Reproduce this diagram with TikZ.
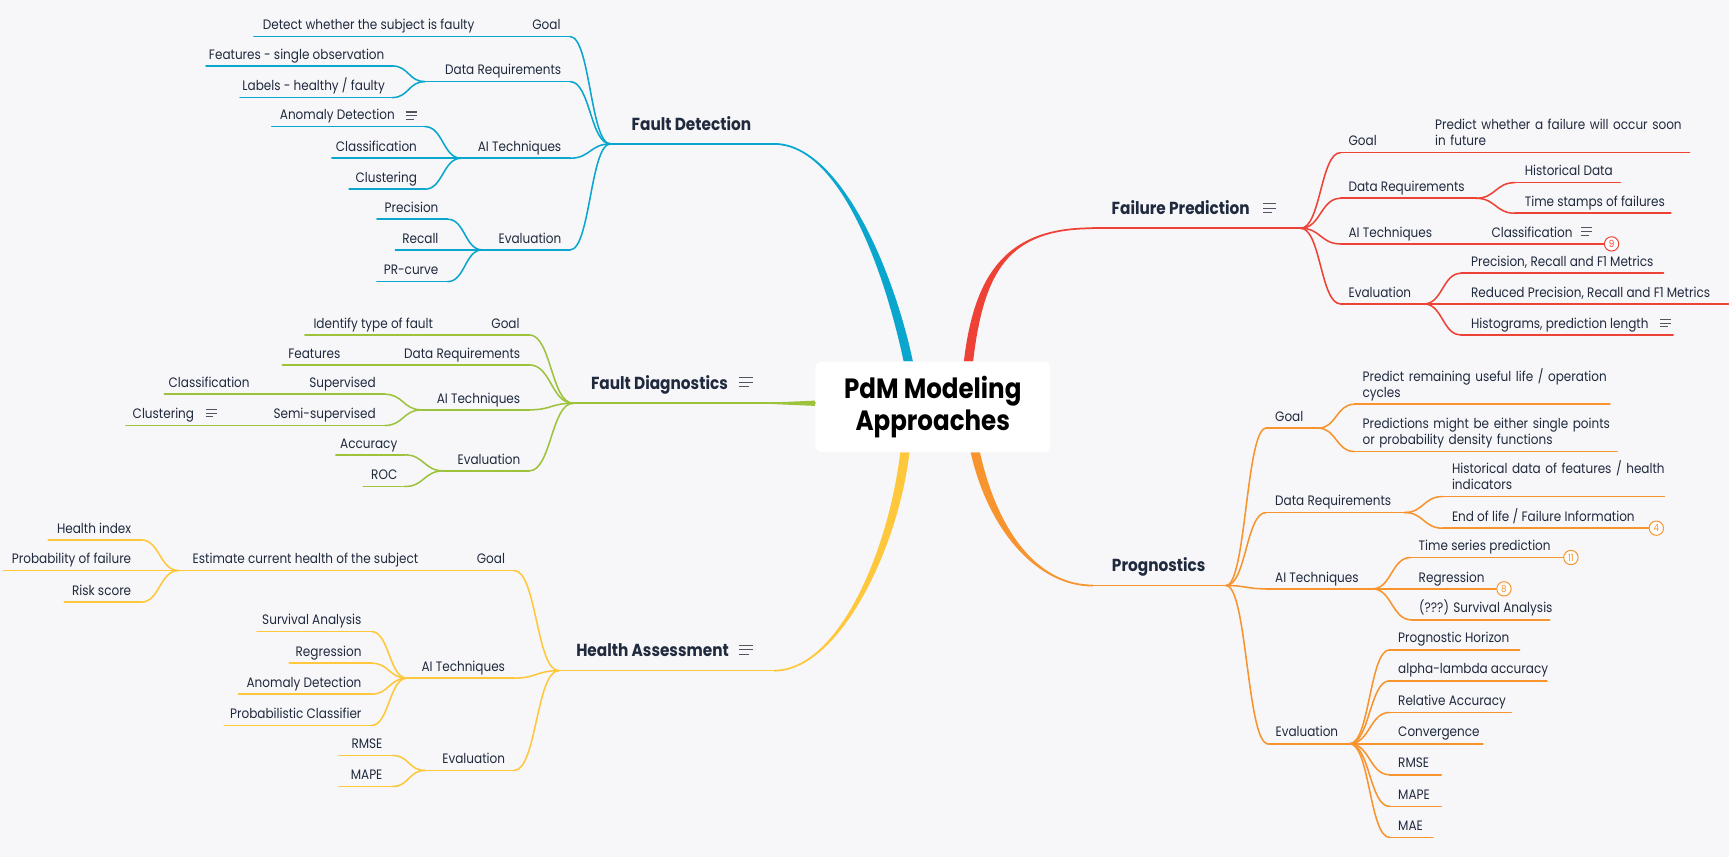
\documentclass[tikz,border=0pt]{standalone}
\usepackage{fontspec}
\setmainfont{Poppins}[FakeStretch=0.88]
\usetikzlibrary{calc}
\definecolor{bgc}{RGB}{247,247,249}
\definecolor{txt}{RGB}{32,42,62}
\definecolor{fdc}{RGB}{10,166,206}
\definecolor{fpc}{RGB}{238,66,54}
\definecolor{fgc}{RGB}{157,195,60}
\definecolor{hac}{RGB}{255,200,60}
\definecolor{pgc}{RGB}{247,148,45}
\definecolor{icn}{RGB}{80,85,95}
\pgfdeclarelayer{bgl}
\pgfdeclarelayer{conl}
\pgfsetlayers{bgl,conl,main}
\tikzset{
 tline/.style={line width=1.4pt, line cap=round},
 ttext/.style={inner sep=0pt, text=txt, font=\fontsize{12.4}{14.5}\selectfont},
 ttitle/.style={inner sep=0pt, text=txt, font=\fontsize{15.8}{19}\selectfont\bfseries},
 rootbox/.style={fill=white, rounded corners=5pt, minimum width=213pt, minimum height=82pt, inner sep=0pt, align=center, text=black, font=\fontsize{25.3}{28.5}\selectfont\bfseries},
 conn/.style={line width=1.4pt, line cap=round, to path={let \p1=(\tikztostart), \p2=(\tikztotarget) in .. controls ({(\x1+\x2)/2},\y1) and ({(\x1+\x2)/2},\y2) .. (\tikztotarget) \tikztonodes}},
 badge/.style={circle, draw, fill=white, line width=0.9pt, minimum size=13pt, inner sep=0pt, font=\fontsize{9}{9}\selectfont},
}
% left-side topic: name, colour, xl, xr, y, text right x, text
\newcommand\tpL[7]{%
 \coordinate (#1-l) at (#3,#5); \coordinate (#1-r) at (#4,#5);
 \draw[tline,#2] (#1-l) -- (#1-r);
 \node[ttext,anchor=base east] (#1) at (#6,#5-6.2) {#7};}
% right-side topic: name, colour, xl, xr, y, text left x, text
\newcommand\tpR[7]{%
 \coordinate (#1-l) at (#3,#5); \coordinate (#1-r) at (#4,#5);
 \draw[tline,#2] (#1-l) -- (#1-r);
 \node[ttext,anchor=base west] (#1) at (#6,#5-6.2) {#7};}
% right-side two-line topic
\newcommand\tpRm[7]{%
 \coordinate (#1-l) at (#3,#5); \coordinate (#1-r) at (#4,#5);
 \draw[tline,#2] (#1-l) -- (#1-r);
 \node[ttext,anchor=base west,text width=260pt,align=left] (#1) at (#6,#5-20.7) {#7};}
% main topic: name, colour, xl, xr, y, text left x, text
\newcommand\mttl[7]{%
 \coordinate (#1-l) at (#3,#5); \coordinate (#1-r) at (#4,#5);
 \draw[tline,#2] (#1-l) -- (#1-r);
 \node[ttitle,anchor=base west] (#1) at (#6,#5-12.5) {#7};}
% note icon: x, y centre, width, gap
\newcommand\noteic[4]{%
 \draw[icn, line width=1pt] (#1,#2-#4) -- ++(#3,0) (#1,#2) -- ++(#3,0) (#1,#2+#4) -- ++({0.7*#3},0);}
% tapered main connector: colour, start, end, C1, C2, signed half width
\newcommand\taper[6]{%
 \fill[#1] ($(#2)+(#6,0)$) .. controls ($(#4)+(#6,0)$) and ($(#5)+(0,-0.8)$) .. ($(#3)+(0,-0.8)$)
  -- ($(#3)+(0,0.8)$) .. controls ($(#5)+(0,0.8)$) and ($(#4)+({-1*(#6)},0)$) .. ($(#2)+({-1*(#6)},0)$) -- cycle;}

\begin{document}
\begin{tikzpicture}[x=1pt,y=-1pt]
\useasboundingbox (0,0) rectangle (1568,777.2);
\begin{pgfonlayer}{bgl}\fill[bgc] (0,0) rectangle (1568,777.2);\end{pgfonlayer}

\node[rootbox] (root) at (845.9,369) {PdM Modeling\\Approaches};
\coordinate (fdS) at ([xshift=-22.2pt]root.north);
\coordinate (haS) at ([xshift=-25.3pt]root.south);
\coordinate (fpS) at ([xshift=32.4pt]root.north);
\coordinate (pgS) at ([xshift=38.6pt]root.south);
\coordinate (fgS) at ([yshift=3.3pt]root.west);

% ---------------- Fault Detection
\mttl{fd}{fdc}{553.6}{702}{130.5}{572.7}{Fault Detection}
\tpL{fdg}{fdc}{477}{517}{33.2}{508.5}{Goal}
\tpL{fdg1}{fdc}{230.2}{437.4}{33.2}{430.4}{Detect whether the subject is faulty}
\tpL{fdd}{fdc}{385.3}{517}{74}{509.2}{Data Requirements}
\tpL{fdd1}{fdc}{186.8}{355.8}{59.8}{348.8}{Features - single observation}
\tpL{fdd2}{fdc}{217.7}{355.8}{88.5}{349.2}{Labels - healthy / faulty}
\tpL{fda}{fdc}{418.2}{517}{143.5}{509.2}{AI Techniques}
\tpL{fda1}{fdc}{246.5}{385.3}{114.8}{358.2}{Anomaly Detection}
\noteic{367.9}{104.9}{10.4}{3.3}
\tpL{fda2}{fdc}{301}{385.3}{143.5}{378.3}{Classification}
\tpL{fda3}{fdc}{316.6}{385.3}{171.6}{378.3}{Clustering}
\tpL{fde}{fdc}{437.3}{517}{226.6}{509.2}{Evaluation}
\tpL{fde1}{fdc}{341.9}{406}{198.8}{397.8}{Precision}
\tpL{fde2}{fdc}{358.6}{406}{226.6}{397.8}{Recall}
\tpL{fde3}{fdc}{341.9}{406}{255.4}{397.8}{PR-curve}
\foreach \c in {fdg,fdd,fda,fde} \draw[conn,fdc] (fd-l) to (\c-r);
\draw[conn,fdc] (fdg-l) to (fdg1-r);
\foreach \c in {fdd1,fdd2} \draw[conn,fdc] (fdd-l) to (\c-r);
\foreach \c in {fda1,fda2,fda3} \draw[conn,fdc] (fda-l) to (\c-r);
\foreach \c in {fde1,fde2,fde3} \draw[conn,fdc] (fde-l) to (\c-r);

% ---------------- Fault Diagnostics
\mttl{fg}{fgc}{519.8}{700}{365.7}{535.8}{Fault Diagnostics}
\noteic{670}{346.6}{12.6}{4}
\draw[tline,fgc] (fg-r) -- (fgS);
\tpL{fgg}{fgc}{440}{480}{303.7}{471.4}{Goal}
\tpL{fgg1}{fgc}{276.5}{400}{303.7}{392.9}{Identify type of fault}
\tpL{fgd}{fgc}{358}{480}{330.9}{472}{Data Requirements}
\tpL{fgd1}{fgc}{256}{316}{330.9}{308.8}{Features}
\tpL{fga}{fgc}{382.3}{480}{371.7}{472}{AI Techniques}
\tpL{fga1}{fgc}{274}{349}{357.5}{340.9}{Supervised}
\tpL{fga1a}{fgc}{149}{234}{357.5}{226.6}{Classification}
\tpL{fga2}{fgc}{244}{349}{385.9}{340.9}{Semi-supervised}
\tpL{fga2a}{fgc}{114.2}{204}{385.9}{176.2}{Clustering}
\noteic{186.8}{374.7}{9.6}{3.3}
\tpL{fge}{fgc}{402}{480}{427}{472}{Evaluation}
\tpL{fge1}{fgc}{304.6}{367.2}{412.5}{360.5}{Accuracy}
\tpL{fge2}{fgc}{329.4}{367.2}{441.2}{360.5}{ROC}
\foreach \c in {fgg,fgd,fga,fge} \draw[conn,fgc] (fg-l) to (\c-r);
\draw[conn,fgc] (fgg-l) to (fgg1-r);
\draw[conn,fgc] (fgd-l) to (fgd1-r);
\foreach \c in {fga1,fga2} \draw[conn,fgc] (fga-l) to (\c-r);
\draw[conn,fgc] (fga1-l) to (fga1a-r);
\draw[conn,fgc] (fga2-l) to (fga2a-r);
\foreach \c in {fge1,fge2} \draw[conn,fgc] (fge-l) to (\c-r);

% ---------------- Health Assessment
\mttl{ha}{hac}{506.7}{702}{608.2}{522.4}{Health Assessment}
\noteic{670}{589.4}{12.6}{4}
\tpL{hag}{hac}{426}{466.3}{517.4}{458.2}{Goal}
\tpL{hag1}{hac}{161.9}{387}{517.4}{379.5}{Estimate current health of the subject}
\tpL{hag1a}{hac}{43.7}{127.9}{489.6}{119.2}{Health index}
\tpL{hag1b}{hac}{3.2}{127.9}{517.4}{119.2}{Probability of failure}
\tpL{hag1c}{hac}{58.3}{127.9}{546.1}{119.2}{Risk score}
\tpL{haa}{hac}{369.1}{466.3}{615}{458.2}{AI Techniques}
\tpL{haa1}{hac}{233.1}{336.8}{572.7}{328}{Survival Analysis}
\tpL{haa2}{hac}{262.3}{336.8}{601.4}{328}{Regression}
\tpL{haa3}{hac}{216.3}{336.8}{629.5}{328}{Anomaly Detection}
\tpL{haa4}{hac}{203.3}{336.8}{657.9}{328}{Probabilistic Classifier}
\tpL{hae}{hac}{385.3}{466.3}{698.7}{458.2}{Evaluation}
\tpL{hae1}{hac}{307.6}{356.2}{685.1}{347}{RMSE}
\tpL{hae2}{hac}{307.6}{356.2}{713.2}{347}{MAPE}
\foreach \c in {hag,haa,hae} \draw[conn,hac] (ha-l) to (\c-r);
\draw[conn,hac] (hag-l) to (hag1-r);
\foreach \c in {hag1a,hag1b,hag1c} \draw[conn,hac] (hag1-l) to (\c-r);
\foreach \c in {haa1,haa2,haa3,haa4} \draw[conn,hac] (haa-l) to (\c-r);
\foreach \c in {hae1,hae2} \draw[conn,hac] (hae-l) to (\c-r);

% ---------------- Failure Prediction
\mttl{fp}{fpc}{991}{1179.6}{207}{1008}{Failure Prediction}
\noteic{1145.5}{188.9}{11.7}{4}
\tpR{fpg}{fpc}{1215.7}{1260}{138.4}{1222.8}{Goal}
\tpRm{fpg1}{fpc}{1294}{1532.2}{138.4}{1301.3}{Predict whether a failure will occur soon\\in future}
\tpR{fpd}{fpc}{1215.7}{1338.6}{179.8}{1222.8}{Data Requirements}
\tpR{fpd1}{fpc}{1374}{1469.4}{165.6}{1382.6}{Historical Data}
\tpR{fpd2}{fpc}{1374}{1515.3}{193.4}{1382.6}{Time stamps of failures}
\tpR{fpa}{fpc}{1215.7}{1305}{221.2}{1222.8}{AI Techniques}
\tpR{fpa1}{fpc}{1345}{1455}{221.2}{1352.4}{Classification}
\noteic{1434}{210}{9.5}{3.3}
\node[badge,draw=fpc,text=fpc] (b9) at (1461.5,221.2) {9};
\tpR{fpe}{fpc}{1215.7}{1291.5}{275.6}{1222.8}{Evaluation}
\tpR{fpe1}{fpc}{1324.9}{1508.6}{247.8}{1333.9}{Precision, Recall and F1 Metrics}
\tpR{fpe2}{fpc}{1324.9}{1567.5}{275.6}{1333.9}{Reduced Precision, Recall and F1 Metrics}
\tpR{fpe3}{fpc}{1324.9}{1517.3}{303.7}{1333.9}{Histograms, prediction length}
\noteic{1505.5}{293.1}{9.8}{3.3}
\foreach \c in {fpg,fpd,fpa,fpe} \draw[conn,fpc] (fp-r) to (\c-l);
\draw[conn,fpc] (fpg-r) to (fpg1-l);
\foreach \c in {fpd1,fpd2} \draw[conn,fpc] (fpd-r) to (\c-l);
\draw[conn,fpc] (fpa-r) to (fpa1-l);
\foreach \c in {fpe1,fpe2,fpe3} \draw[conn,fpc] (fpe-r) to (\c-l);

% ---------------- Prognostics
\mttl{pg}{pgc}{991}{1111.9}{531}{1008.2}{Prognostics}
\tpR{pgg}{pgc}{1148.2}{1195.5}{388.3}{1156.2}{Goal}
\tpRm{pgg1}{pgc}{1228.2}{1460}{366.6}{1235.5}{Predict remaining useful life / operation\\cycles}
\tpRm{pgg2}{pgc}{1228.2}{1466.5}{409.5}{1235.5}{Predictions might be either single points\\or probability density functions}
\tpR{pgd}{pgc}{1148.2}{1273.7}{464.8}{1156.2}{Data Requirements}
\tpRm{pgd1}{pgc}{1308.3}{1509.4}{450.3}{1316.6}{Historical data of features / health\\indicators}
\tpR{pgd2}{pgc}{1308.3}{1495}{479}{1316.6}{End of life / Failure Information}
\node[badge,draw=pgc,text=pgc] (b4) at (1502.1,479) {4};
\tpR{pga}{pgc}{1148.2}{1244.6}{534}{1156.2}{AI Techniques}
\tpR{pga1}{pgc}{1279.2}{1418}{505.6}{1286.4}{Time series prediction}
\node[badge,draw=pgc,text=pgc] (b11) at (1424.6,505.6) {11};
\tpR{pga2}{pgc}{1279.2}{1357}{534}{1286.4}{Regression}
\node[badge,draw=pgc,text=pgc] (b8) at (1363.9,534) {8};
\tpR{pga3}{pgc}{1279.9}{1405.3}{562.1}{1286.8}{(???) Survival Analysis}
\tpR{pge}{pgc}{1149.9}{1224}{674.5}{1156.6}{Evaluation}
\tpR{pge1}{pgc}{1260.2}{1378.1}{589.3}{1267.8}{Prognostic Horizon}
\tpR{pge2}{pgc}{1260.2}{1402.9}{617.4}{1267.8}{alpha-lambda accuracy}
\tpR{pge3}{pgc}{1260.2}{1370.5}{646.1}{1267.8}{Relative Accuracy}
\tpR{pge4}{pgc}{1260.2}{1344.8}{674.5}{1267.8}{Convergence}
\tpR{pge5}{pgc}{1260.2}{1307}{702.6}{1267.8}{RMSE}
\tpR{pge6}{pgc}{1260.2}{1307}{731.3}{1267.8}{MAPE}
\tpR{pge7}{pgc}{1260.2}{1299.5}{759.4}{1267.8}{MAE}
\foreach \c in {pgg,pgd,pga,pge} \draw[conn,pgc] (pg-r) to (\c-l);
\foreach \c in {pgg1,pgg2} \draw[conn,pgc] (pgg-r) to (\c-l);
\foreach \c in {pgd1,pgd2} \draw[conn,pgc] (pgd-r) to (\c-l);
\foreach \c in {pga1,pga2,pga3} \draw[conn,pgc] (pga-r) to (\c-l);
\foreach \c in {pge1,pge2,pge3,pge4,pge5,pge6,pge7} \draw[conn,pgc] (pge-r) to (\c-l);

% ---------------- main connectors from the root
\begin{pgfonlayer}{conl}
\taper{fdc}{fdS}{fd-r}{805,240}{760,130.5}{4.2}
\taper{fpc}{fpS}{fp-l}{888,245}{915,207}{-4.2}
\taper{hac}{haS}{ha-r}{810,500}{760,608.2}{-4.2}
\taper{pgc}{pgS}{pg-l}{900,480}{940,531}{4.2}
\fill[fgc] ($(fgS)+(0,-2.4)$) -- ($(fg-r)+(0,-0.7)$) -- ($(fg-r)+(0,0.7)$) -- ($(fgS)+(0,2.4)$) -- cycle;
\end{pgfonlayer}
\end{tikzpicture}
\end{document}
